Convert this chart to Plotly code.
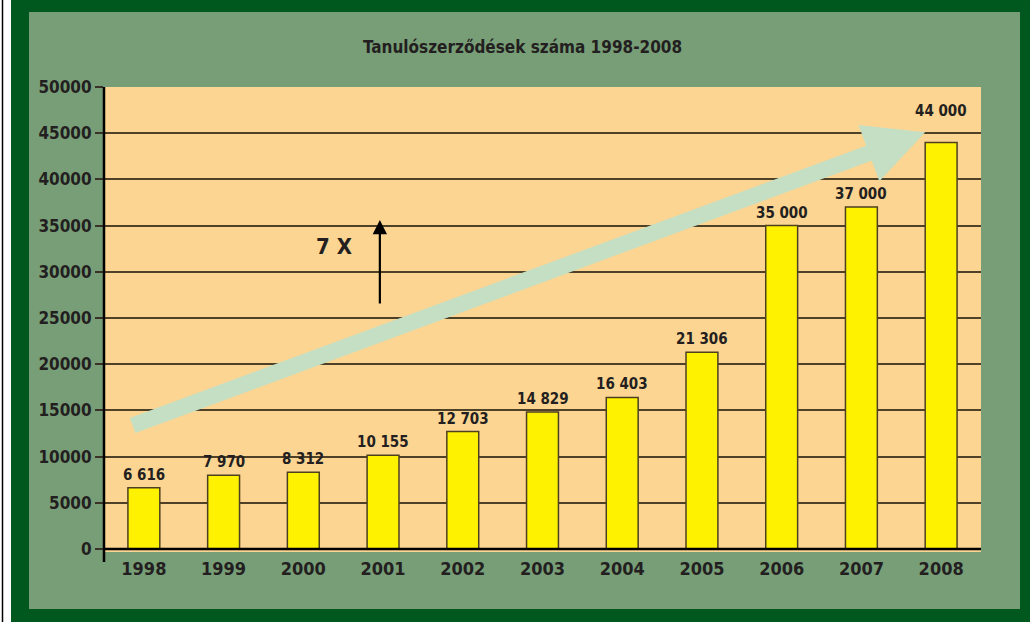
import plotly.graph_objects as go

years = ["1998", "1999", "2000", "2001", "2002", "2003", "2004", "2005", "2006", "2007", "2008"]
contracts = [6616, 7970, 8312, 10155, 12703, 14829, 16403, 21306, 35000, 37000, 44000]
value_labels = ["6 616", "7 970", "8 312", "10 155", "12 703", "14 829", "16 403", "21 306", "35 000", "37 000", "44 000"]
y_ticks = [0, 5000, 10000, 15000, 20000, 25000, 30000, 35000, 40000, 45000, 50000]
title_text = "Tanulószerződések száma 1998-2008"

W, H = 1030, 622
ML, MR, MT, MB = 104, 49, 87, 73
PW, PH = W - ML - MR, H - MT - MB

def px(x):
    return (x - ML) / PW

def py(y):
    return 1 - (y - MT) / PH

FONT = "DejaVu Sans Condensed, Roboto Condensed, Roboto, sans-serif"
TXT = "#231f20"
DARK_GREEN = "#00581f"
LIGHT_GREEN = "#789e77"
PLOT_BG = "#fdd592"

fig = go.Figure()
fig.add_trace(go.Bar(
    x=list(range(len(years))), y=contracts,
    marker=dict(color="#fff200", line=dict(color="#4d4020", width=1.5)),
    width=0.4, hoverinfo="x+y",
))

shapes = [
    dict(type="rect", xref="paper", yref="paper", x0=px(0), x1=px(11), y0=py(0), y1=py(H),
         fillcolor="white", line=dict(width=0), layer="below"),
    dict(type="line", xref="paper", yref="paper", x0=px(2.5), x1=px(2.5), y0=py(0), y1=py(H),
         line=dict(color="black", width=1.5), layer="below"),
    dict(type="rect", xref="paper", yref="paper", x0=px(29), x1=px(1020), y0=py(609), y1=py(12),
         fillcolor=LIGHT_GREEN, line=dict(width=0), layer="below"),
    dict(type="rect", xref="paper", yref="paper", x0=0, x1=1, y0=py(552), y1=1,
         fillcolor=PLOT_BG, line=dict(width=0), layer="below"),
    dict(type="line", xref="paper", yref="paper", x0=0, x1=0, y0=py(562), y1=1,
         line=dict(color="black", width=2.5)),
    dict(type="line", xref="paper", yref="paper", x0=0, x1=1, y0=0, y1=0,
         line=dict(color="black", width=2.5)),
]

annotations = []
for i, (v, lab) in enumerate(zip(contracts, value_labels)):
    annotations.append(dict(x=i, y=v, text=lab, showarrow=False, yanchor="bottom",
                            yshift=20 if i == len(years) - 1 else 2,
                            font=dict(family=FONT, size=15, color=TXT, weight="bold")))

annotations.append(dict(x=9.8, y=45100, ax=-0.16, ay=13300, axref="x", ayref="y",
                        xref="x", yref="y", text="", showarrow=True,
                        arrowhead=2, arrowsize=0.75, arrowwidth=16, arrowcolor="#c4dfc3"))
annotations.append(dict(x=2.96, y=35600, ax=2.96, ay=26400, axref="x", ayref="y",
                        xref="x", yref="y", text="", showarrow=True,
                        arrowhead=2, arrowsize=1.3, arrowwidth=2.2, arrowcolor="black"))
annotations.append(dict(x=2.38, y=32700, xref="x", yref="y", text="7 X", showarrow=False,
                        xanchor="center", yanchor="middle",
                        font=dict(family=FONT, size=22, color=TXT, weight="bold")))
annotations.append(dict(x=px(522), y=py(47), xref="paper", yref="paper", text=title_text,
                        xanchor="center", yanchor="middle", showarrow=False,
                        font=dict(family=FONT, size=17, color=TXT, weight="bold")))

fig.update_layout(
    width=W, height=H,
    margin=dict(l=ML, r=MR, t=MT, b=MB, pad=0),
    paper_bgcolor=DARK_GREEN,
    plot_bgcolor="rgba(0,0,0,0)",
    showlegend=False,
    bargap=0.6,
    shapes=shapes,
    annotations=annotations,
    xaxis=dict(range=[-0.5, 10.5], tickmode="array", tickvals=list(range(len(years))),
               ticktext=years, showgrid=False, zeroline=False, showline=False,
               ticks="", ticklabelstandoff=7,
               tickfont=dict(family=FONT, size=18, color=TXT, weight="bold"),
               fixedrange=True),
    yaxis=dict(range=[0, 50000], tickmode="array", tickvals=y_ticks,
               ticktext=[str(t) for t in y_ticks], showgrid=True, gridcolor="#4f4128",
               gridwidth=1.5, zeroline=False, showline=False, ticks="outside", ticklen=8,
               tickwidth=1.5, tickcolor="#3a3226",
               tickfont=dict(family=FONT, size=17, color=TXT, weight="bold"),
               fixedrange=True),
)

fig.write_html("out.html", config={"displayModeBar": False},
               post_script="document.body.style.margin='0';document.body.style.overflow='hidden';")
